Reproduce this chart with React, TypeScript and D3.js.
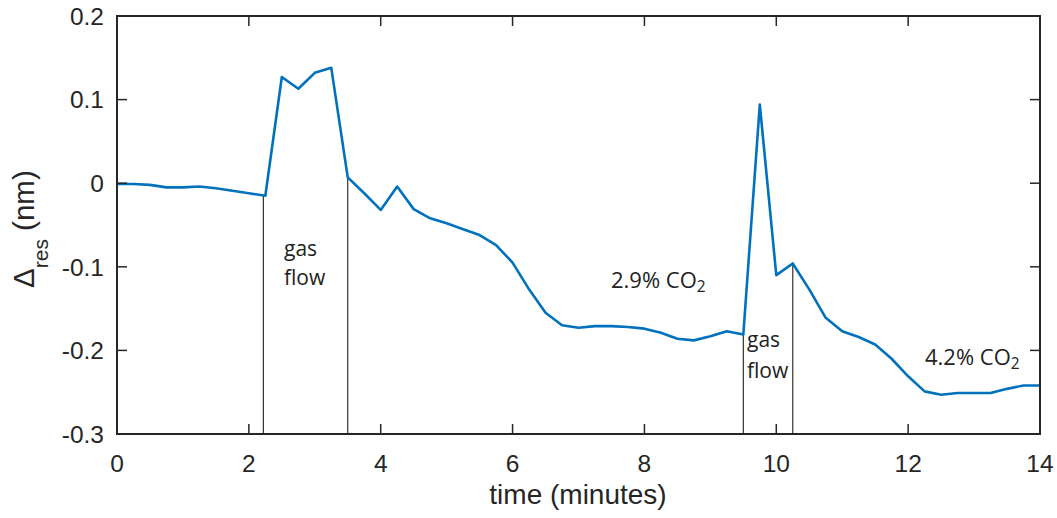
import React from "react";
import * as d3 from "d3";

const times = [0,0.25,0.5,0.75,1,1.25,1.5,1.75,2,2.25,2.5,2.75,3,3.25,3.5,3.75,4,4.25,4.5,4.75,5,5.25,5.5,5.75,6,6.25,6.5,6.75,7,7.25,7.5,7.75,8,8.25,8.5,8.75,9,9.25,9.5,9.75,10,10.25,10.5,10.75,11,11.25,11.5,11.75,12,12.25,12.5,12.75,13,13.25,13.5,13.75,14];
const values = [-0.001,-0.001,-0.002,-0.005,-0.005,-0.004,-0.006,-0.009,-0.012,-0.015,0.127,0.113,0.132,0.138,0.007,-0.012,-0.032,-0.004,-0.031,-0.042,-0.048,-0.055,-0.062,-0.074,-0.095,-0.127,-0.155,-0.170,-0.173,-0.171,-0.171,-0.172,-0.174,-0.179,-0.186,-0.188,-0.183,-0.177,-0.181,0.094,-0.110,-0.096,-0.127,-0.161,-0.177,-0.184,-0.193,-0.210,-0.231,-0.249,-0.253,-0.251,-0.251,-0.251,-0.246,-0.242,-0.242];
const markerTimes = [2.22, 3.5, 9.5, 10.25];
const markerTops = [-0.015, 0.007, -0.181, -0.096];
const xTicks = [0, 2, 4, 6, 8, 10, 12, 14];
const yTicks = [0.2, 0.1, 0, -0.1, -0.2, -0.3];
const yTickLabels = ["0.2", "0.1", "0", "-0.1", "-0.2", "-0.3"];

export default function App() {
  const W = 1057, H = 518;
  const left = 117, right = 1040, top = 16, bottom = 434;
  const x = d3.scaleLinear().domain([0, 14]).range([left, right]);
  const y = d3.scaleLinear().domain([-0.3, 0.2]).range([bottom, top]);
  const line = d3.line<number>().x((_, i) => x(times[i])).y((v) => y(v));
  const axisColor = "#262626";
  const tickFont = "Liberation Sans, Arial, sans-serif";
  const annFont = "'Open Sans', sans-serif";
  return (
    <svg width={W} height={H} style={{ position: "absolute", left: 0, top: 0, background: "#fff" }}>
      <rect x={0} y={0} width={W} height={H} fill="#fff" />
      {markerTimes.map((t, i) => (
        <line key={"m" + i} x1={x(t)} x2={x(t)} y1={y(markerTops[i])} y2={bottom} stroke="#222" strokeWidth={1.1} />
      ))}
      <path d={line(values) || ""} fill="none" stroke="#0072BD" strokeWidth={2.6} strokeLinejoin="round" />
      {xTicks.map((t) => (
        <g key={"xt" + t}>
          <line x1={x(t)} x2={x(t)} y1={bottom} y2={bottom - 10} stroke={axisColor} strokeWidth={1.5} />
          <line x1={x(t)} x2={x(t)} y1={top} y2={top + 10} stroke={axisColor} strokeWidth={1.5} />
          <text x={x(t)} y={472} textAnchor="middle" fontFamily={tickFont} fontSize={24.5} fill={axisColor}>{t}</text>
        </g>
      ))}
      {yTicks.map((v, i) => (
        <g key={"yt" + v}>
          <line x1={left} x2={left + 10} y1={y(v)} y2={y(v)} stroke={axisColor} strokeWidth={1.5} />
          <line x1={right} x2={right - 10} y1={y(v)} y2={y(v)} stroke={axisColor} strokeWidth={1.5} />
          <text x={104} y={y(v) + 8.7} textAnchor="end" fontFamily={tickFont} fontSize={24.5} fill={axisColor}>{yTickLabels[i]}</text>
        </g>
      ))}
      <rect x={left} y={top} width={right - left} height={bottom - top} fill="none" stroke={axisColor} strokeWidth={2} />
      <text x={578} y={504} textAnchor="middle" fontFamily={tickFont} fontSize={28} fill={axisColor}>time (minutes)</text>
      <text transform="translate(34,288) rotate(-90)" textAnchor="start" fontFamily={tickFont} fontSize={29.5} fill={axisColor}>
        <tspan>Δ</tspan>
        <tspan fontSize={21} dy={14}>res</tspan>
        <tspan dy={-14}> (nm)</tspan>
      </text>
      <text fontFamily={annFont} fontSize={21} fill="#222">
        <tspan x={284} y={256}>gas</tspan>
        <tspan x={284} y={285}>flow</tspan>
      </text>
      <text fontFamily={annFont} fontSize={21} fill="#222">
        <tspan x={747} y={347}>gas</tspan>
        <tspan x={747} y={378}>flow</tspan>
      </text>
      <text x={611} y={288} fontFamily={annFont} fontSize={22} fill="#222">
        2.9% CO<tspan fontSize={15.5} dy={4}>2</tspan>
      </text>
      <text x={925} y={365} fontFamily={annFont} fontSize={22} fill="#222">
        4.2% CO<tspan fontSize={15.5} dy={4}>2</tspan>
      </text>
    </svg>
  );
}
